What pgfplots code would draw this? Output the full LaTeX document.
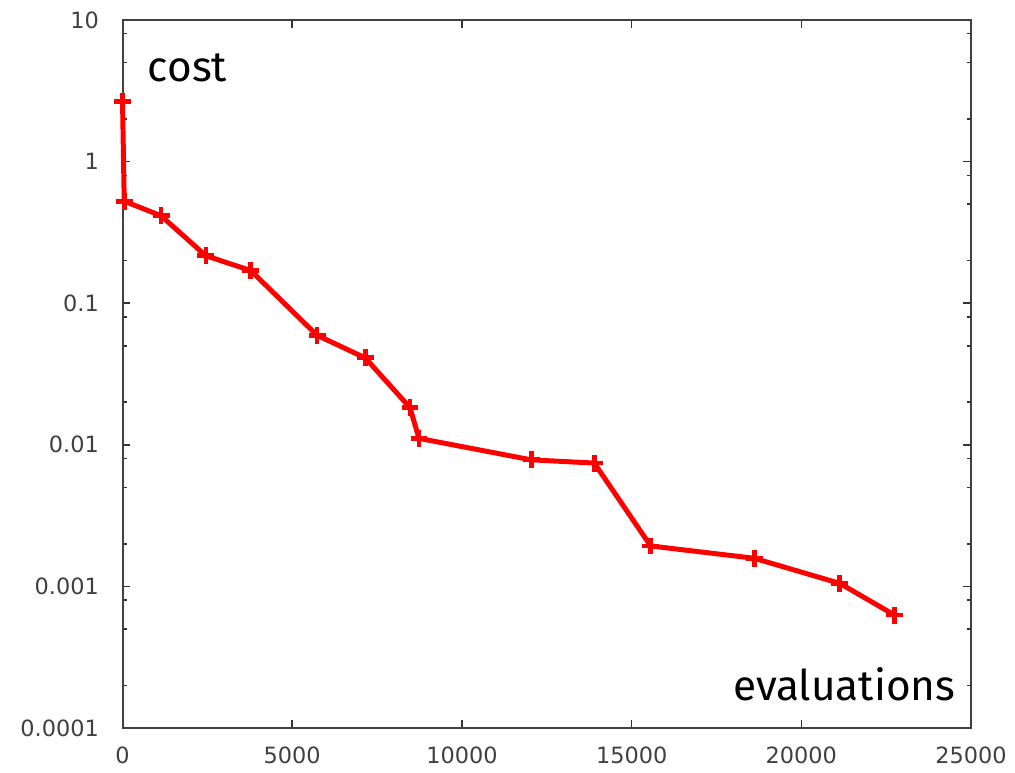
\documentclass[border=0pt]{standalone}
\usepackage{pgfplots}
\pgfplotsset{compat=1.18}
\usepackage{fontspec}
\setmainfont{DejaVu Sans}
\newfontfamily\labelfont{Fira Sans}

\begin{document}
\begin{tikzpicture}
\begin{axis}[
    scale only axis,
    width=340.8pt,
    height=284.4pt,
    xmin=0, xmax=25000,
    ymode=log,
    ymin=0.0001, ymax=10,
    xtick={0,5000,10000,15000,20000,25000},
    ytick={0.0001,0.001,0.01,0.1,1,10},
    yticklabels={0.0001,0.001,0.01,0.1,1,10},
    xticklabels={0,5000,10000,15000,20000,25000},
    minor ytick={0.0002,0.0005,0.0008,0.002,0.005,0.008,0.02,0.05,0.08,0.2,0.5,0.8,2,5,8},
    tick align=inside,
    major tick length=3.2pt,
    minor tick length=1.6pt,
    every tick/.style={black!80, line width=0.6pt},
    axis line style={black!75, line width=0.8pt},
    tick label style={font=\fontsize{9}{10}\selectfont, text=black!75},
    yticklabel style={xshift=-6pt},
    xticklabel style={yshift=-4pt},
    scaled x ticks=false,
    clip=false,
]
\addplot[red, line width=2pt, mark=+, mark size=3.4pt,
    mark options={line width=1.9pt, solid}] coordinates {
    (0,2.65) (50,0.525) (1135,0.414) (2456,0.216) (3776,0.170)
    (5731,0.0593) (7150,0.0411) (8470,0.0183) (8734,0.0111)
    (12039,0.00783) (13899,0.00743) (15560,0.00193) (18611,0.00158)
    (21134,0.00105) (22748,0.000627)
};
\node[anchor=base west, font=\labelfont\fontsize{17}{20}\selectfont, inner sep=0pt]
    at (rel axis cs:0.0293,0.9128) {cost};
\node[anchor=base east, font=\labelfont\fontsize{17}{20}\selectfont, inner sep=0pt]
    at (rel axis cs:0.982,0.0394) {evaluations};
\path (rel axis cs:-0.1444,-0.0591) rectangle (rel axis cs:1.0469,1.0281);
\end{axis}
\end{tikzpicture}
\end{document}
